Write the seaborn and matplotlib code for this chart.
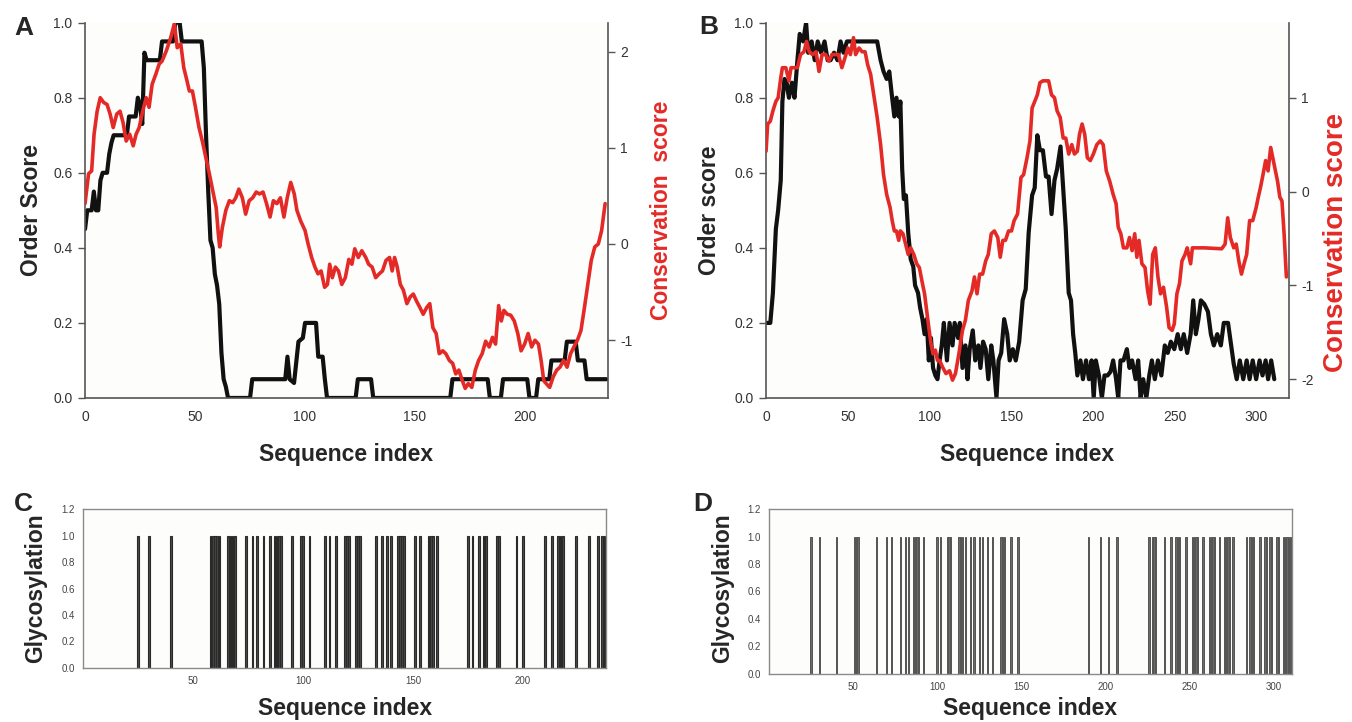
import numpy as np
import pandas as pd
import matplotlib
matplotlib.use("Agg")
import matplotlib.pyplot as plt
import seaborn as sns

# ---- panel A: order score (black) and conservation score (red)
a_order_x = [0, 1, 3, 4, 5, 6, 7, 8, 10, 11, 12, 13, 19, 20, 23, 24, 25, 26, 27, 28,
             34, 35, 40, 41, 43, 44, 53, 54, 55, 56, 57, 58, 59, 60, 61, 62, 63, 64,
             65, 75, 76, 91, 92, 93, 95, 97, 99, 100, 105, 106, 108, 109, 110, 123,
             124, 130, 131, 166, 167, 183, 184, 189, 190, 201, 202, 205, 206, 211,
             212, 218, 219, 223, 224, 227, 228, 237]
a_order_y = [0.45, 0.50, 0.50, 0.55, 0.50, 0.50, 0.58, 0.60, 0.60, 0.65, 0.68, 0.70,
             0.70, 0.75, 0.75, 0.80, 0.78, 0.73, 0.92, 0.90, 0.90, 0.95, 0.95, 1.00,
             1.00, 0.95, 0.95, 0.88, 0.70, 0.55, 0.42, 0.40, 0.33, 0.30, 0.25, 0.12,
             0.05, 0.03, 0.00, 0.00, 0.05, 0.05, 0.11, 0.05, 0.04, 0.15, 0.16, 0.20,
             0.20, 0.11, 0.11, 0.05, 0.00, 0.00, 0.05, 0.05, 0.00, 0.00, 0.05, 0.05,
             0.00, 0.00, 0.05, 0.05, 0.00, 0.00, 0.05, 0.05, 0.10, 0.10, 0.15, 0.15,
             0.10, 0.10, 0.05, 0.05]

a_cons_x = [0, 1.6, 3.0, 4.1, 5.5, 6.9, 8.5, 10.0, 11.4, 12.8, 14.4, 15.9, 17.3, 18.7,
            20.3, 21.9, 23.2, 24.6, 26.2, 27.8, 29.1, 30.5, 32.1, 33.7, 35.0, 37.0,
            39.0, 40.6, 41.9, 43.5, 44.9, 46.3, 47.4, 48.8, 50.2, 51.8, 53.3, 54.9,
            56.5, 58.1, 59.6, 60.6, 61.2, 62.4, 64.0, 65.6, 67.1, 68.5, 69.9, 71.5,
            73.0, 74.6, 76.2, 77.8, 79.3, 80.9, 82.5, 84.1, 85.6, 87.2, 88.8, 90.4,
            91.9, 93.5, 95.1, 96.3, 98.0, 100.0, 101.4, 103.0, 104.5, 105.9, 107.3,
            108.9, 110.2, 111.2, 112.4, 113.8, 115.2, 116.7, 118.3, 119.9, 121.3,
            122.6, 124.2, 125.8, 127.6, 128.9, 130.5, 132.1, 133.7, 135.2, 136.8,
            138.4, 139.6, 140.7, 141.9, 143.3, 144.7, 146.3, 147.8, 149.2, 150.6,
            152.2, 153.7, 155.3, 156.7, 158.1, 159.6, 161.0, 162.6, 164.0, 165.6,
            167.1, 168.5, 169.9, 171.5, 172.8, 174.2, 175.8, 177.4, 178.9, 180.5,
            182.1, 183.7, 185.2, 186.6, 188.0, 189.2, 190.4, 191.9, 193.5, 195.1,
            196.7, 198.2, 199.8, 201.4, 203.0, 204.5, 206.1, 207.3, 208.5, 209.6,
            211.2, 212.8, 214.4, 215.9, 217.5, 219.1, 220.7, 222.2, 223.8, 225.4,
            227.0, 228.5, 230.1, 231.7, 233.3, 234.8, 236.4]
a_cons_y = [0.42, 0.73, 0.76, 1.14, 1.38, 1.52, 1.47, 1.45, 1.35, 1.21, 1.35, 1.38,
            1.26, 1.07, 1.14, 1.02, 1.14, 1.21, 1.38, 1.52, 1.42, 1.66, 1.76, 1.87,
            1.90, 2.01, 2.15, 2.29, 2.04, 2.08, 1.83, 1.70, 1.59, 1.59, 1.42, 1.21,
            1.07, 0.90, 0.73, 0.55, 0.38, 0.10, -0.03, 0.17, 0.35, 0.45, 0.43, 0.48,
            0.57, 0.48, 0.31, 0.45, 0.48, 0.54, 0.52, 0.54, 0.42, 0.28, 0.45, 0.42,
            0.48, 0.28, 0.48, 0.64, 0.52, 0.35, 0.24, 0.14, 0.00, -0.14, -0.24, -0.31,
            -0.28, -0.45, -0.42, -0.21, -0.35, -0.24, -0.28, -0.42, -0.35, -0.16,
            -0.21, -0.05, -0.14, -0.07, -0.14, -0.21, -0.24, -0.35, -0.31, -0.28,
            -0.17, -0.14, -0.28, -0.14, -0.24, -0.42, -0.48, -0.62, -0.55, -0.52,
            -0.59, -0.66, -0.73, -0.66, -0.62, -0.87, -0.93, -1.14, -1.11, -1.14,
            -1.21, -1.24, -1.35, -1.31, -1.42, -1.50, -1.45, -1.49, -1.31, -1.21,
            -1.14, -1.01, -1.07, -0.97, -1.04, -0.64, -0.80, -0.69, -0.73, -0.74,
            -0.80, -0.93, -1.11, -1.04, -0.93, -1.07, -1.00, -1.04, -1.21, -1.42,
            -1.45, -1.49, -1.38, -1.31, -1.28, -1.21, -1.28, -1.14, -1.07, -1.00,
            -0.90, -0.66, -0.42, -0.17, -0.03, 0.00, 0.14, 0.42]

# ---- panel B
b_order_x = [0, 2.6, 4.2, 6.0, 7.4, 9.0, 10.0, 11.3, 12.6, 14.0, 15.8, 17.4, 19.2,
             20.6, 22.7, 24.5, 25.8, 27.9, 29.8, 31.6, 33.7, 35.8, 37.7, 39.5, 41.6,
             43.7, 45.6, 47.4, 49.5, 52.2, 68.0, 70.1, 71.9, 73.8, 75.4, 76.9, 78.5,
             79.8, 81.2, 82.2, 83.3, 84.3, 85.6, 87.0, 88.5, 90.1, 91.2, 93.0, 94.3,
             95.7, 97.0, 98.3, 99.6, 100.9, 102.2, 103.6, 104.9, 106.2, 107.5, 108.8,
             110.7, 112.3, 114.1, 115.4, 117.5, 118.6, 120.2, 122.0, 123.3, 124.6,
             126.5, 128.0, 129.9, 131.2, 132.8, 134.4, 136.0, 137.8, 139.1, 141.0,
             142.3, 143.9, 145.7, 147.6, 149.1, 151.0, 152.8, 154.9, 157.0, 158.9,
             160.7, 162.8, 164.4, 166.0, 167.6, 169.4, 171.3, 172.9, 174.7, 176.5,
             178.1, 180.2, 181.8, 183.4, 185.2, 186.6, 187.9, 189.2, 190.5, 192.4,
             193.9, 195.8, 197.6, 199.2, 200.5, 201.8, 203.7, 205.5, 207.1, 209.0,
             210.8, 212.4, 214.2, 215.5, 216.9, 218.7, 220.8, 222.4, 224.0, 226.1,
             227.7, 229.2, 230.8, 232.7, 234.5, 236.1, 237.9, 239.8, 241.9, 244.0,
             245.8, 247.7, 249.8, 251.9, 253.8, 255.6, 257.7, 259.8, 261.4, 263.0,
             264.6, 266.1, 268.2, 270.4, 272.2, 274.0, 276.1, 278.3, 280.1, 282.7,
             284.6, 286.2, 288.0, 289.9, 292.0, 294.1, 295.9, 297.8, 299.9, 302.0,
             303.8, 305.7, 307.2, 309.1, 311.0]
b_order_y = [0.20, 0.20, 0.28, 0.45, 0.50, 0.58, 0.79, 0.85, 0.84, 0.80, 0.84, 0.80,
             0.90, 0.97, 0.95, 1.00, 0.92, 0.95, 0.90, 0.95, 0.92, 0.95, 0.90, 0.90,
             0.92, 0.90, 0.95, 0.92, 0.95, 0.95, 0.95, 0.90, 0.87, 0.85, 0.87, 0.81,
             0.75, 0.80, 0.75, 0.79, 0.61, 0.53, 0.54, 0.44, 0.37, 0.35, 0.30, 0.28,
             0.24, 0.21, 0.17, 0.21, 0.10, 0.16, 0.08, 0.06, 0.05, 0.10, 0.14, 0.20,
             0.10, 0.20, 0.14, 0.20, 0.16, 0.20, 0.08, 0.14, 0.05, 0.13, 0.18, 0.10,
             0.14, 0.08, 0.15, 0.13, 0.05, 0.14, 0.10, 0.00, 0.10, 0.12, 0.21, 0.17,
             0.10, 0.13, 0.10, 0.15, 0.26, 0.29, 0.44, 0.54, 0.56, 0.70, 0.66, 0.66,
             0.59, 0.59, 0.49, 0.58, 0.61, 0.67, 0.56, 0.45, 0.28, 0.26, 0.17, 0.12,
             0.06, 0.10, 0.05, 0.10, 0.05, 0.10, 0.00, 0.10, 0.06, 0.00, 0.06, 0.06,
             0.07, 0.10, 0.05, 0.00, 0.10, 0.10, 0.13, 0.08, 0.10, 0.05, 0.10, 0.00,
             0.05, 0.00, 0.06, 0.10, 0.05, 0.10, 0.06, 0.14, 0.12, 0.15, 0.13, 0.17,
             0.13, 0.17, 0.12, 0.17, 0.26, 0.17, 0.21, 0.26, 0.25, 0.23, 0.17, 0.14,
             0.17, 0.14, 0.20, 0.20, 0.14, 0.09, 0.05, 0.10, 0.05, 0.10, 0.05, 0.10,
             0.05, 0.10, 0.06, 0.10, 0.05, 0.10, 0.05]

b_cons_x = [0, 1.0, 2.6, 4.2, 6.0, 7.4, 9.0, 10.0, 12.1, 14.0, 15.3, 17.4, 19.2, 21.1,
            23.2, 24.8, 26.4, 28.5, 30.6, 32.4, 34.3, 36.4, 38.5, 40.3, 42.2, 44.3,
            46.4, 48.2, 50.1, 51.6, 53.5, 54.8, 56.9, 58.8, 60.6, 62.2, 64.0, 65.9,
            68.0, 70.1, 71.9, 73.8, 75.9, 77.2, 78.5, 79.8, 81.2, 82.2, 83.8, 85.4,
            87.0, 88.5, 90.4, 92.2, 93.8, 95.7, 97.0, 98.3, 99.6, 100.9, 102.2,
            103.6, 104.9, 106.2, 108.0, 110.1, 112.3, 114.1, 115.9, 118.0, 120.2,
            122.0, 123.8, 126.0, 127.5, 129.1, 130.7, 132.5, 134.4, 136.0, 137.8,
            139.7, 141.8, 143.3, 144.9, 146.5, 148.4, 150.2, 151.8, 153.9, 156.0,
            157.6, 159.7, 161.5, 162.8, 164.4, 166.0, 167.6, 169.4, 171.3, 172.9,
            174.7, 176.5, 178.1, 180.0, 181.8, 183.4, 185.2, 187.1, 188.7, 190.5,
            191.8, 193.4, 195.0, 196.6, 198.4, 200.3, 202.4, 204.5, 206.3, 208.2,
            210.3, 212.4, 214.2, 215.5, 217.1, 218.7, 220.8, 222.4, 224.0, 225.6,
            226.9, 228.2, 230.0, 231.9, 233.5, 235.0, 236.6, 238.2, 239.8, 241.4,
            243.2, 245.1, 246.6, 248.5, 249.8, 251.4, 253.0, 254.5, 256.4, 257.7,
            259.8, 260.9, 263.0, 268.2, 278.8, 280.9, 282.5, 284.1, 286.2, 287.7,
            289.3, 290.9, 292.5, 294.1, 295.9, 297.8, 299.9, 301.2, 302.5, 304.1,
            305.7, 307.2, 308.8, 310.4, 311.7, 313.0, 314.4, 315.7, 317.0, 318.4]
b_cons_y = [0.43, 0.72, 0.75, 0.86, 0.96, 1.00, 1.21, 1.32, 1.32, 1.18, 1.32, 1.32,
            1.32, 1.46, 1.49, 1.60, 1.49, 1.46, 1.49, 1.28, 1.46, 1.46, 1.39, 1.46,
            1.46, 1.46, 1.32, 1.42, 1.53, 1.46, 1.64, 1.46, 1.53, 1.49, 1.49, 1.35,
            1.25, 1.03, 0.79, 0.50, 0.18, -0.03, -0.17, -0.31, -0.42, -0.42, -0.52,
            -0.42, -0.45, -0.56, -0.67, -0.60, -0.67, -0.77, -0.81, -0.98, -1.09,
            -1.27, -1.45, -1.62, -1.73, -1.69, -1.80, -1.80, -1.87, -1.94, -1.91,
            -2.01, -1.94, -1.73, -1.48, -1.37, -1.16, -1.06, -0.91, -1.09, -0.88,
            -0.88, -0.74, -0.67, -0.45, -0.42, -0.49, -0.70, -0.52, -0.52, -0.42,
            -0.42, -0.31, -0.24, 0.15, 0.18, 0.36, 0.54, 0.89, 0.96, 1.03, 1.16,
            1.18, 1.18, 1.18, 1.03, 1.00, 0.86, 0.79, 0.57, 0.57, 0.40, 0.50, 0.40,
            0.43, 0.61, 0.72, 0.61, 0.36, 0.33, 0.40, 0.50, 0.54, 0.50, 0.22, 0.11,
            -0.03, -0.13, -0.38, -0.45, -0.60, -0.60, -0.49, -0.63, -0.45, -0.70,
            -0.52, -0.77, -0.81, -1.06, -1.20, -0.67, -0.60, -0.91, -1.09, -1.02,
            -1.23, -1.45, -1.48, -1.41, -1.09, -0.98, -0.74, -0.67, -0.60, -0.77,
            -0.60, -0.60, -0.60, -0.61, -0.56, -0.28, -0.49, -0.60, -0.56, -0.74,
            -0.88, -0.77, -0.67, -0.31, -0.31, -0.17, -0.06, 0.04, 0.18, 0.33, 0.22,
            0.47, 0.33, 0.22, 0.11, -0.06, -0.10, -0.45, -0.91]

# ---- panels C and D: glycosylation sites (residue index)
c_sites = [25, 30, 40, 58, 59, 60, 61, 62, 66, 67, 68, 69, 74, 77, 79, 82, 85, 87, 88,
           89, 90, 95, 99, 100, 103, 110, 112, 115, 119, 120, 121, 124, 125, 126, 133,
           136, 138, 140, 143, 144, 145, 146, 151, 153, 157, 158, 159, 161, 175, 177,
           180, 182, 183, 188, 189, 197, 200, 210, 213, 216, 217, 218, 224, 230, 234,
           236, 237, 238]
d_sites = [25, 30, 40, 51, 52, 53, 64, 70, 73, 78, 81, 83, 86, 87, 88, 89, 92, 100,
           102, 106, 107, 108, 113, 114, 115, 117, 120, 122, 125, 127, 130, 133, 138,
           139, 140, 144, 148, 190, 197, 202, 207, 226, 228, 229, 230, 235, 239, 242,
           243, 244, 248, 252, 253, 254, 255, 258, 262, 263, 264, 265, 268, 271, 272,
           273, 274, 276, 284, 286, 287, 288, 292, 295, 296, 298, 299, 302, 303, 306,
           307, 308, 309, 310, 311]

RED = "#e42a27"
SPINE = "#555555"

sns.set_theme(style="white")
plt.rcParams["font.family"] = ["Liberation Sans", "DejaVu Sans"]
plt.rcParams["axes.unicode_minus"] = False

fig = plt.figure(figsize=(13.52, 7.22), dpi=100)

W = 0.3868
axA = fig.add_axes([0.0629, 0.4488, W, 0.5198])
axB = fig.add_axes([0.5666, 0.4488, W, 0.5198])
axC = fig.add_axes([0.0614, 0.0748, W, 0.2202])
axD = fig.add_axes([0.5688, 0.0665, W, 0.2285])


def style_top(ax, ax2, xmax, xticks, rlim, rticks):
    ax.set_xlim(0, xmax)
    ax.set_ylim(0, 1)
    ax.set_xticks(xticks)
    ax.set_yticks(np.arange(0, 1.01, 0.2))
    ax.set_yticklabels([f"{v:.1f}" for v in np.arange(0, 1.01, 0.2)])
    ax2.set_ylim(*rlim)
    ax2.set_yticks(rticks)
    for a in (ax, ax2):
        a.set_xlabel("")
        a.set_ylabel("")
        a.spines["top"].set_visible(False)
        for s in ("left", "bottom", "right"):
            a.spines[s].set_color(SPINE)
            a.spines[s].set_linewidth(1.2)
        a.tick_params(axis="both", direction="out", length=5, width=1,
                      color=SPINE, labelsize=10, labelcolor="#333333", pad=4)
    ax.spines["right"].set_visible(False)
    ax2.spines["left"].set_visible(False)
    ax2.spines["bottom"].set_visible(False)
    ax.set_facecolor("#fdfdfb")


# Panel A
axA2 = axA.twinx()
sns.lineplot(x=a_order_x, y=a_order_y, ax=axA, color="#111111", lw=3.0,
             estimator=None, sort=False, errorbar=None)
sns.lineplot(x=a_cons_x, y=a_cons_y, ax=axA2, color=RED, lw=2.6,
             estimator=None, sort=False, errorbar=None)
style_top(axA, axA2, 237.7, [0, 50, 100, 150, 200], (-1.60, 2.30), [-1, 0, 1, 2])

# Panel B
axB2 = axB.twinx()
sns.lineplot(x=b_order_x, y=b_order_y, ax=axB, color="#111111", lw=3.0,
             estimator=None, sort=False, errorbar=None)
sns.lineplot(x=b_cons_x, y=b_cons_y, ax=axB2, color=RED, lw=2.6,
             estimator=None, sort=False, errorbar=None)
style_top(axB, axB2, 320, [0, 50, 100, 150, 200, 250, 300], (-2.20, 1.80), [-2, -1, 0, 1])


def style_bottom(ax, xmax, xticks):
    ax.set_xlim(0, xmax)
    ax.set_ylim(0, 1.2)
    ax.set_xticks(xticks)
    ax.set_yticks(np.arange(0, 1.21, 0.2))
    ax.set_yticklabels([f"{v:.1f}" for v in np.arange(0, 1.21, 0.2)])
    ax.set_xlabel("")
    ax.set_ylabel("")
    for s in ax.spines.values():
        s.set_color("#8a8a8a")
        s.set_linewidth(1.0)
    ax.tick_params(axis="both", direction="out", length=3, width=0.8,
                   color="#777777", labelsize=7, labelcolor="#444444", pad=3)
    ax.set_facecolor("#fdfdfb")


# Panel C
sns.barplot(x=c_sites, y=[1.0] * len(c_sites), ax=axC, native_scale=True,
            width=0.8, color="#4a4a4a", saturation=1, errorbar=None,
            edgecolor="#2a2a2a", linewidth=0.8)
style_bottom(axC, 237.7, [50, 100, 150, 200])

# Panel D
sns.barplot(x=d_sites, y=[1.0] * len(d_sites), ax=axD, native_scale=True,
            width=0.8, color="#6a6a6a", saturation=1, errorbar=None,
            edgecolor="#555555", linewidth=0.7)
style_bottom(axD, 311, [50, 100, 150, 200, 250, 300])

# Labels and panel letters
lab = dict(fontsize=16.5, fontweight="bold", ha="center", va="center")
fig.text(32 / 1352, 1 - 210 / 722, "Order Score", rotation=90, **lab)
fig.text(710 / 1352, 1 - 210 / 722, "Order score", rotation=90, **lab)
fig.text(662 / 1352, 1 - 210 / 722, "Conservation  score", rotation=90,
         color=RED, **lab)
fig.text(1336 / 1352, 1 - 242 / 722, "Conservation score", rotation=90,
         color=RED, fontsize=20, fontweight="bold", ha="center", va="center")
fig.text(346 / 1352, 1 - 455 / 722, "Sequence index", **lab)
fig.text(1027 / 1352, 1 - 455 / 722, "Sequence index", **lab)
fig.text(36 / 1352, 1 - 588 / 722, "Glycosylation", rotation=90, **lab)
fig.text(723 / 1352, 1 - 588 / 722, "Glycosylation", rotation=90, **lab)
fig.text(345 / 1352, 1 - 708 / 722, "Sequence index", **lab)
fig.text(1030 / 1352, 1 - 708 / 722, "Sequence index", **lab)

let = dict(fontsize=19, fontweight="bold", ha="center", va="center")
fig.text(24 / 1352, 1 - 28 / 722, "A", **let)
fig.text(709 / 1352, 1 - 27 / 722, "B", **let)
fig.text(23 / 1352, 1 - 504 / 722, "C", **let)
fig.text(703 / 1352, 1 - 504 / 722, "D", **let)

fig.savefig("out.png", dpi=100)
